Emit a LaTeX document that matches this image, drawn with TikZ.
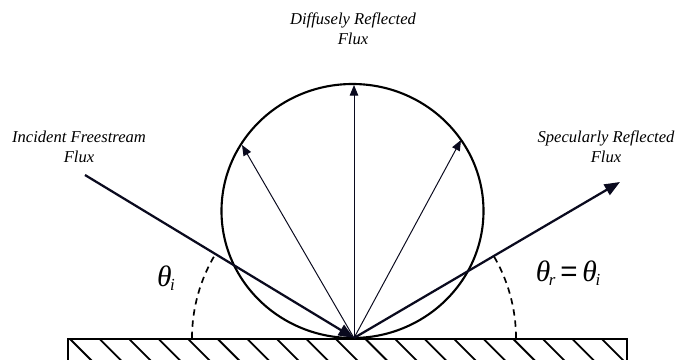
\documentclass[tikz,border=0pt]{standalone}
\usepackage{fontspec}
\setmainfont{Liberation Serif}
\newfontfamily\eqfont{Liberation Sans}
\usetikzlibrary{arrows.meta}
\definecolor{ink}{RGB}{10,10,30}
\newcommand{\sbx}[1]{\raisebox{-0.15em}{\fontsize{12}{14}\selectfont #1}}
\tikzset{
  lbl/.style={font=\itshape\fontsize{11.8}{14}\selectfont, align=center, inner sep=0pt},
  ang/.style={font=\itshape\fontsize{21}{24}\selectfont, inner sep=0pt},
  thick line/.style={draw=ink, line width=1.6pt},
  thin line/.style={draw=ink, line width=0.7pt},
  bighead/.style={-{Triangle[length=11pt,width=8.5pt]}},
  smallhead/.style={-{Triangle[length=7.5pt,width=6pt]}},
  dashedarc/.style={draw=black, line width=1.2pt, dash pattern=on 4.5pt off 3.5pt},
}
\begin{document}
\begin{tikzpicture}[x=0.025cm,y=-0.025cm]
\useasboundingbox (0,0) rectangle (677,360);
% surface
\draw[line width=1.5pt] (68,380) -- (68,339) -- (627,339) -- (627,380);
\foreach \k in {0,...,18} {
  \draw[line width=1.3pt] ({70+29.55*\k},339) -- ({70+29.55*\k+24},363);
}
% points
\coordinate (P) at (354,338);
\coordinate (inc) at (85,175);
\coordinate (spec) at (620,182);
\coordinate (dtop) at (354,85);
\coordinate (dleft) at (242,145);
\coordinate (dright) at (461,140);
% lobe
\draw[line width=1.5pt] (352.5,211) ellipse [x radius=131, y radius=127];
% diffuse arrows
\draw[thin line, smallhead] (P) -- (dtop);
\draw[thin line, smallhead] (P) -- (dleft);
\draw[thin line, smallhead] (P) -- (dright);
% incident and specular
\draw[thick line, bighead] (inc) -- (P);
\draw[thick line, bighead] (P) -- (spec);
% angle arcs
\draw[dashedarc] (P) ++(-162,0) arc[start angle=180, end angle=211, radius=162];
\draw[dashedarc] (P) ++(162,0) arc[start angle=0, end angle=-31, radius=162];
% labels
\node[lbl] (linc) at (79,147) {Incident Freestream\\Flux};
\node[lbl] (ldif) at (353,29) {Diffusely Reflected\\Flux};
\node[lbl] (lspec) at (606,147) {Specularly Reflected\\Flux};
\node[ang] (ti) at (166,278) {θ\kern-0.05em\sbx{i}};
\node[ang] (tr) at (568,273) {θ\kern-0.05em\sbx{r}\,{\upshape\eqfont =}\,θ\kern-0.05em\sbx{i}};
\end{tikzpicture}
\end{document}
